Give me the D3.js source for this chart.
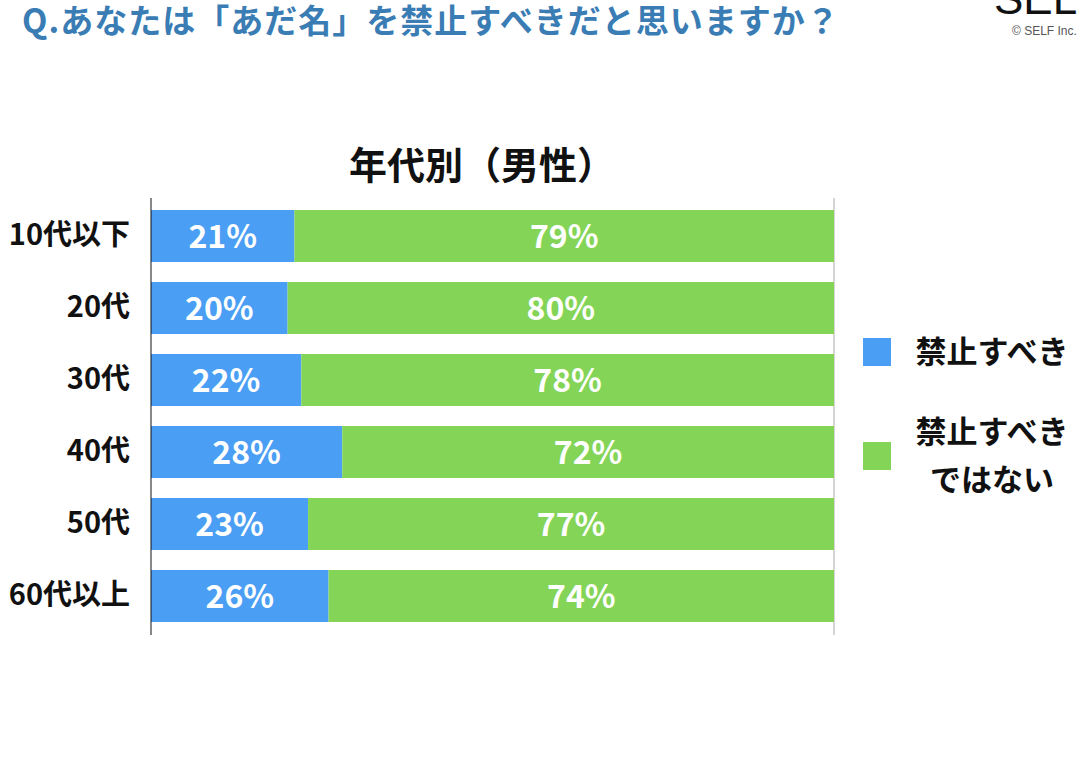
<!DOCTYPE html>
<html>
<head>
<meta charset="utf-8">
<script src="https://cdn.jsdelivr.net/npm/d3@7"></script>
<style>
  body { margin: 0; background: #fff; }
  svg { display: block; font-family: "Noto Sans CJK JP", "Noto Sans", sans-serif; }
</style>
</head>
<body>
<div class="canva"></div>
<script>
// data
const categories = ['10代以下', '20代', '30代', '40代', '50代', '60代以上'];
const yesValues = [21, 20, 22, 28, 23, 26];   // 禁止すべき
const noValues = [79, 80, 78, 72, 77, 74];    // 禁止すべきではない
const seriesNames = ['禁止すべき', '禁止すべきではない'];
const colors = ['#4a9ef3', '#84d457'];

const svg = d3.select('.canva').append('svg')
    .attr('width', 1080)
    .attr('height', 765);

// question title
svg.append('text')
  .attr('x', 22)
  .attr('y', 33)
  .attr('fill', '#3a7cb4')
  .attr('font-size', 33)
  .attr('font-weight', 700)
  .attr('letter-spacing', 1)
  .text('Q.あなたは「あだ名」を禁止すべきだと思いますか？');

// logo (cut off at the top like the source image)
svg.append('text')
  .attr('x', 994)
  .attr('y', 14)
  .attr('fill', '#111')
  .attr('font-size', 44)
  .attr('font-family', 'Liberation Sans, sans-serif')
  .attr('font-weight', 300)
  .text('SELF');
svg.append('text')
  .attr('x', 1012)
  .attr('y', 35)
  .attr('fill', '#555')
  .attr('font-size', 12)
  .attr('font-family', 'Liberation Sans, sans-serif')
  .text('© SELF Inc.');

// chart title
svg.append('text')
  .attr('x', 482)
  .attr('y', 179)
  .attr('text-anchor', 'middle')
  .attr('font-size', 38)
  .attr('font-weight', 700)
  .attr('fill', '#111')
  .text('年代別（男性）');

const x = d3.scaleLinear().domain([0, 100]).range([151, 834]);
const y = d3.scaleBand().domain(categories)
  .range([198, 634])
  .paddingInner(0.278)
  .paddingOuter(0.167);

const rows = categories.map((c, i) => ({ cat: c, yes: yesValues[i], no: noValues[i] }));

// 100% line on the right
svg.append('line')
  .attr('x1', x(100)).attr('x2', x(100))
  .attr('y1', 198).attr('y2', 635)
  .attr('stroke', '#aaa')
  .attr('stroke-width', 1);

const g = svg.selectAll('.row').data(rows).enter().append('g');

g.append('rect')
  .attr('x', x(0))
  .attr('y', d => y(d.cat))
  .attr('width', d => x(d.yes) - x(0))
  .attr('height', y.bandwidth())
  .attr('fill', colors[0]);

g.append('rect')
  .attr('x', d => x(d.yes))
  .attr('y', d => y(d.cat))
  .attr('width', d => x(d.yes + d.no) - x(d.yes))
  .attr('height', y.bandwidth())
  .attr('fill', colors[1]);

g.append('text')
  .attr('x', d => (x(0) + x(d.yes)) / 2)
  .attr('y', d => y(d.cat) + y.bandwidth() / 2)
  .attr('dy', '0.36em')
  .attr('text-anchor', 'middle')
  .attr('fill', '#fff')
  .attr('font-size', 32)
  .attr('font-weight', 700)
  .text(d => d.yes + '%');

g.append('text')
  .attr('x', d => (x(d.yes) + x(d.yes + d.no)) / 2)
  .attr('y', d => y(d.cat) + y.bandwidth() / 2)
  .attr('dy', '0.36em')
  .attr('text-anchor', 'middle')
  .attr('fill', '#fff')
  .attr('font-size', 32)
  .attr('font-weight', 700)
  .text(d => d.no + '%');

// category axis
const yAxis = svg.append('g')
  .attr('transform', `translate(${x(0)},0)`)
  .call(d3.axisLeft(y).tickSize(0).tickPadding(21));
yAxis.select('.domain').attr('stroke', '#111').attr('d', 'M0,198V635');
yAxis.selectAll('text')
  .attr('font-size', 29)
  .attr('font-weight', 700)
  .attr('fill', '#111')
  .attr('font-family', '"Noto Sans CJK JP", sans-serif');

// legend
const legY = [352, 456];
seriesNames.forEach((name, i) => {
  svg.append('rect')
    .attr('x', 863)
    .attr('y', legY[i] - 14)
    .attr('width', 28)
    .attr('height', 28)
    .attr('fill', colors[i]);
});
svg.append('text')
  .attr('x', 992).attr('y', 352).attr('dy', '0.36em')
  .attr('text-anchor', 'middle')
  .attr('font-size', 31).attr('font-weight', 700).attr('fill', '#111')
  .text('禁止すべき');
const leg2 = svg.append('text')
  .attr('x', 992).attr('y', 432).attr('dy', '0.36em')
  .attr('text-anchor', 'middle')
  .attr('font-size', 31).attr('font-weight', 700).attr('fill', '#111');
leg2.append('tspan').attr('x', 992).text('禁止すべき');
leg2.append('tspan').attr('x', 992).attr('dy', 48).text('ではない');
</script>
</body>
</html>
